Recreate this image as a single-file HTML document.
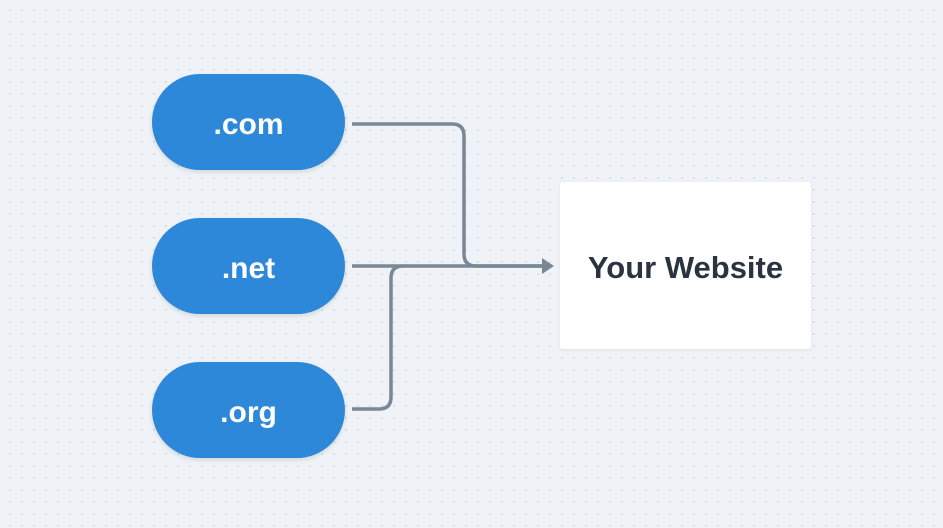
<!DOCTYPE html>
<html><head><style>
body{margin:0;width:943px;height:528px;overflow:hidden;background-color:#eff3f7;background-image:radial-gradient(circle,#d3d9e0 0.8px,transparent 1.1px);background-size:12px 12px;background-position:4px 4px;font-family:"Liberation Sans",sans-serif;position:relative}
.p{position:absolute;left:152px;width:193px;height:96px;border-radius:48px;background:#2d88d9;color:#fff;font-size:30px;font-weight:bold;display:flex;align-items:center;justify-content:center;box-shadow:0 2px 5px rgba(0,0,0,.12);padding-top:6px;box-sizing:border-box}
.b{position:absolute;left:560px;top:182px;width:251px;height:167px;background:#fff;border-radius:3px;box-shadow:0 1px 3px rgba(0,0,0,.08);display:flex;align-items:center;justify-content:center;font-size:31px;font-weight:bold;color:#2a3440;padding-top:4px;box-sizing:border-box}
</style></head><body>
<svg width="943" height="528" style="position:absolute;left:0;top:0">
<g fill="none" stroke="#7a8896" stroke-width="3.5">
<path d="M352 124 H452 Q464 124 464 136 V254 Q464 266 476 266 H545"/>
<path d="M352 266 H545"/>
<path d="M352 409 H379 Q391 409 391 397 V278 Q391 266 403 266"/>
</g>
<path d="M542 258 L554 266 L542 274 Z" fill="#7a8896"/>
</svg>
<div class="p" style="top:74px">.com</div>
<div class="p" style="top:218px">.net</div>
<div class="p" style="top:362px">.org</div>
<div class="b">Your Website</div>
</body></html>
